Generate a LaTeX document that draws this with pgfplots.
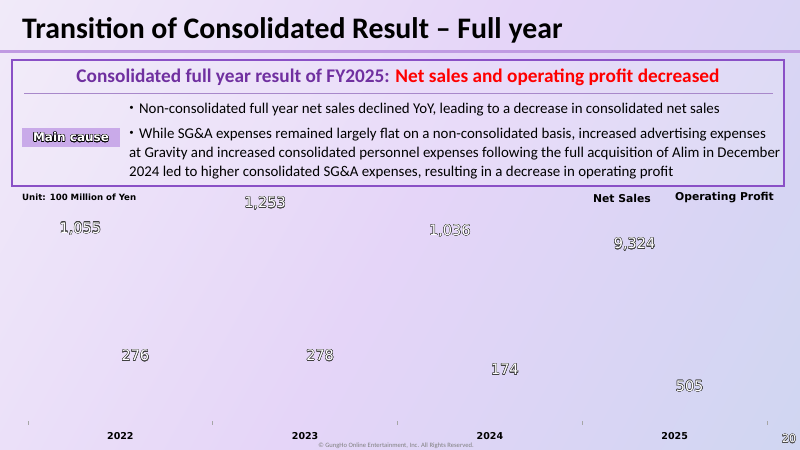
\documentclass[border=0pt]{standalone}
\usepackage{fontspec}
\setmainfont{Carlito}
\newfontfamily\dejavu{DejaVu Sans}
\newfontfamily\cjk{Noto Sans CJK JP}
\usepackage{pgfplots}
\pgfplotsset{compat=1.18}
\usepackage{pgfplotstable}
\usepackage{contour}
\contourlength{0.4pt}
\definecolor{bgA}{HTML}{F6F4FA}
\definecolor{bgB}{HTML}{E5D5F8}
\definecolor{bgC}{HTML}{C6D6EE}
\definecolor{titleline}{HTML}{C09AE2}
\definecolor{boxborder}{HTML}{8A50C6}
\definecolor{headpurple}{HTML}{7030A0}
\definecolor{sepcol}{HTML}{A888CA}
\definecolor{mainbox}{HTML}{C9AAE9}
\pgfdeclarehorizontalshading{bgshade}{100bp}{color(0bp)=(bgA); color(50bp)=(bgB); color(100bp)=(bgC)}

\pgfplotstableread{
year value label
0 1055 1,055
1 1253 1,253
2 1036 1,036
3 932.4 9,324
}\netsales
\pgfplotstableread{
year value label
0 276 276
1 278 278
2 174 174
3 50.5 505
}\opprofit

\begin{document}
\begin{tikzpicture}[x=1bp,y=1bp]
\useasboundingbox (0,0) rectangle (800,450);
\shade[shading=bgshade, shading angle=-29] (0,0) rectangle (800,450);
% title
\node[anchor=base west, inner sep=0, font=\fontsize{29.8bp}{34bp}\selectfont\bfseries] at (22,411) {Transition of Consolidated Result – Full year};
\draw[titleline, line width=3bp] (0,398) -- (800,398);
% box
\draw[boxborder, line width=1.3bp, fill=white, fill opacity=0.15] (12,390) rectangle (784,264);
\node[anchor=base, inner sep=0, font=\fontsize{19.3bp}{22bp}\selectfont\bfseries] at (398,367) {\textcolor{headpurple}{Consolidated full year result of FY2025:} \textcolor{red}{Net sales and operating profit decreased}};
\draw[sepcol, line width=1bp] (24,356) -- (773,356);
\begin{scope}[every node/.style={anchor=base west, inner sep=0, font=\fontsize{14.9bp}{17bp}\selectfont}]
\node at (124,336) {{\cjk ・}Non-consolidated full year net sales declined YoY, leading to a decrease in consolidated net sales};
\node at (124,311) {{\cjk ・}While SG\&A expenses remained largely flat on a non-consolidated basis, increased advertising expenses};
\node at (129,292) {at Gravity and increased consolidated personnel expenses following the full acquisition of Alim in December};
\node at (129,273) {2024 led to higher consolidated SG\&A expenses, resulting in a decrease in operating profit};
\end{scope}
\fill[mainbox] (22,303) rectangle (120,322);
\node[inner sep=0, font=\dejavu\bfseries\fontsize{12bp}{14bp}\selectfont] at (71,312.5) {\contour{black}{\textcolor{white}{Main cause}}};
% unit and legend
\node[anchor=west, inner sep=0, font=\dejavu\bfseries\fontsize{8.6bp}{10bp}\selectfont] at (22,253) {Unit: 100 Million of Yen};
\node[inner sep=0, font=\dejavu\bfseries\fontsize{10.8bp}{13bp}\selectfont] at (622,252) {Net Sales};
\node[inner sep=0, font=\dejavu\bfseries\fontsize{10.8bp}{13bp}\selectfont] at (724.5,252) {Operating Profit};
% chart: net sales
\begin{axis}[
  at={(28bp,27bp)}, anchor=south west, scale only axis, width=739bp, height=233bp,
  xmin=-0.5, xmax=3.5, ymin=-407.5, ymax=1418.5, clip=false,
  ybar, bar width=36bp,
  axis x line*=bottom, axis y line=none, axis line style={draw=none},
  xtick={0,1,2,3}, xticklabels={2022,2023,2024,2025},
  major tick length=0pt,
  minor xtick={-0.5,0.5,1.5,2.5,3.5}, minor tick length=4bp, tick align=center,
  minor tick style={gray!70, line width=0.6bp},
  xticklabel style={font=\dejavu\bfseries\fontsize{9.5bp}{11bp}\selectfont, yshift=-6bp},
  nodes near coords={\contour{black!75}{\textcolor{white}{\pgfplotspointmeta}}},
  every node near coord/.append style={font=\dejavu\fontsize{14.5bp}{17bp}\selectfont, inner sep=1bp},
]
\addplot[draw=none, fill=none, bar shift=-40bp, point meta=explicit symbolic] table[x=year, y=value, meta=label] {\netsales};
\end{axis}
% chart: operating profit
\begin{axis}[
  at={(28bp,27bp)}, anchor=south west, scale only axis, width=739bp, height=233bp,
  xmin=-0.5, xmax=3.5, ymin=-170.4, ymax=1555.5, clip=false,
  ybar, bar width=30bp,
  axis x line=none, axis y line=none,
  nodes near coords={\contour{black!75}{\textcolor{white}{\pgfplotspointmeta}}},
  every node near coord/.append style={font=\dejavu\fontsize{14.5bp}{17bp}\selectfont, inner sep=1bp},
]
\addplot[draw=none, fill=none, bar shift=15bp, point meta=explicit symbolic] table[x=year, y=value, meta=label] {\opprofit};
\end{axis}
% footer
\node[inner sep=0, font=\fontsize{6.6bp}{8bp}\selectfont, text=gray] at (396,4) {© GungHo Online Entertainment, Inc. All Rights Reserved.};
\node[inner sep=0, font=\dejavu\fontsize{11bp}{13bp}\selectfont] at (789,11) {\contour{black!70}{\textcolor{white}{20}}};
\end{tikzpicture}
\end{document}
